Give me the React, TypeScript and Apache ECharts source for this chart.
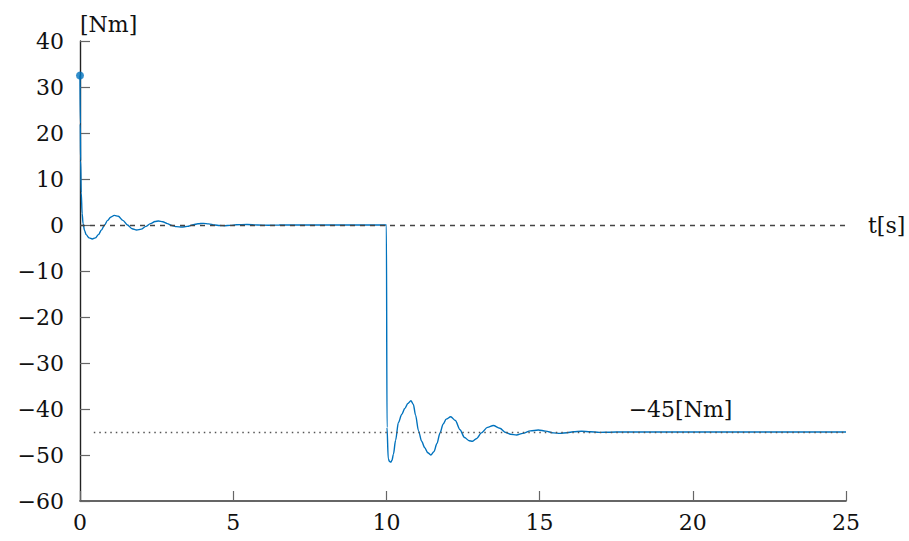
import React, { useEffect, useRef } from "react";
import * as echarts from "echarts";

const tSec = [
  0, 0.01, 0.02, 0.04, 0.07, 0.1, 0.15, 0.2, 0.3, 0.4, 0.5, 0.6, 0.7, 0.8, 0.9, 1.0, 1.12, 1.25, 1.4, 1.55,
  1.7, 1.85, 2.0, 2.15, 2.3, 2.45, 2.56, 2.7, 2.85, 3.0, 3.15, 3.32, 3.5, 3.7, 3.85, 4.03, 4.2, 4.4, 4.55,
  4.73, 4.9, 5.1, 5.45, 5.8, 6.15, 6.5, 7, 8, 9, 10.0,
  10.02, 10.06, 10.1, 10.14, 10.18, 10.23, 10.3, 10.39, 10.5, 10.6, 10.7, 10.8, 10.88, 10.95, 11.05, 11.15,
  11.25, 11.35, 11.45, 11.55, 11.65, 11.75, 11.85, 11.95, 12.1, 12.25, 12.4, 12.55, 12.7, 12.81, 12.95,
  13.1, 13.3, 13.49, 13.7, 13.9, 14.05, 14.25, 14.45, 14.7, 14.96, 15.2, 15.45, 15.67, 15.9, 16.1, 16.37,
  16.65, 16.95, 17.3, 17.7, 18.2, 19, 25,
];
const torqueNm = [
  32.5, 22, 14, 7, 2.5, 0.3, -1.2, -2.1, -2.8, -3.05, -2.8, -2.1, -1.1, 0.0, 1.0, 1.7, 2.1, 1.9, 1.0, 0.0,
  -0.8, -1.1, -0.9, -0.3, 0.3, 0.75, 0.87, 0.7, 0.3, -0.1, -0.35, -0.45, -0.3, 0.05, 0.28, 0.36, 0.25, 0.0, -0.12,
  -0.15, -0.08, 0.05, 0.12, 0.0, -0.06, 0.0, 0.03, 0, 0, 0,
  -44, -50.8, -51.4, -51.55, -51.2, -49.8, -46.8, -43, -41.2, -39.9, -38.8, -38.2, -39, -41.3, -44.8, -47,
  -48.4, -49.5, -50, -49.3, -47.5, -45.2, -43.3, -42.2, -41.7, -42.5, -44.5, -46.2, -46.9, -47.0, -46.4,
  -45.2, -44.0, -43.6, -44.2, -45.1, -45.5, -45.65, -45.3, -44.75, -44.57, -44.8, -45.2, -45.3, -45.15, -44.95, -44.85,
  -44.95, -45.08, -45.05, -44.98, -45.0, -45, -45,
];
const referenceLevel = -45;
const referenceLabel = "\u221245[Nm]";
const yUnit = "[Nm]";
const xUnit = "t[s]";

const FONT = "DejaVu Serif";
const BLUE = "#0072bd";

const fmt = (v: number) => (v < 0 ? "\u2212" + Math.abs(v) : String(v));

export default function App() {
  const ref = useRef<HTMLDivElement>(null);
  useEffect(() => {
    if (!ref.current) return;
    const chart = echarts.init(ref.current, undefined, { renderer: "svg" });
    const data = tSec.map((t, i) => [t, torqueNm[i]]);
    chart.setOption({
      animation: false,
      backgroundColor: "#ffffff",
      textStyle: { fontFamily: FONT, fontSize: 22, color: "#111" },
      grid: { left: 80, right: 63, top: 41, bottom: 40, containLabel: false },
      xAxis: {
        type: "value",
        min: 0,
        max: 25,
        interval: 5,
        axisLine: { show: true, onZero: false, lineStyle: { color: "#333", width: 1.6 } },
        axisTick: { show: true, inside: true, length: 10, lineStyle: { color: "#666", width: 1.2 } },
        axisLabel: { fontFamily: FONT, fontSize: 22, color: "#111", margin: 10 },
        splitLine: { show: false },
      },
      yAxis: {
        type: "value",
        min: -60,
        max: 40,
        interval: 10,
        name: yUnit,
        nameLocation: "end",
        nameGap: 6,
        nameTextStyle: { fontFamily: FONT, fontSize: 22, color: "#111", align: "left" },
        axisLine: { show: true, onZero: false, lineStyle: { color: "#222", width: 1.4 } },
        axisTick: { show: true, inside: true, length: 10, lineStyle: { color: "#666", width: 1.2 } },
        axisLabel: { fontFamily: FONT, fontSize: 22, color: "#111", margin: 16, formatter: fmt },
        splitLine: { show: false },
      },
      series: [
        {
          type: "line",
          data,
          showSymbol: false,
          smooth: 0.3,
          smoothMonotone: "x",
          lineStyle: { color: BLUE, width: 1.4 },
          z: 3,
          markLine: {
            silent: true,
            symbol: ["none", "none"],
            data: [
              [
                {
                  coord: [0, 0],
                  lineStyle: { type: [5, 5], color: "#444", width: 1.3 },
                  label: {
                    show: true,
                    position: "end",
                    formatter: xUnit,
                    distance: 22,
                    fontFamily: FONT,
                    fontSize: 22,
                    color: "#111",
                  },
                },
                { coord: [25, 0] },
              ],
              [
                {
                  coord: [0.45, referenceLevel],
                  lineStyle: { type: [1.5, 4], color: "#555", width: 1.3 },
                  label: { show: false },
                },
                { coord: [25, referenceLevel] },
              ],
            ],
          },
          markPoint: {
            silent: true,
            symbol: "rect",
            symbolSize: 1,
            itemStyle: { color: "rgba(0,0,0,0)" },
            data: [
              {
                coord: [19.6, -40.2],
                label: {
                  show: true,
                  position: "inside",
                  formatter: referenceLabel,
                  fontFamily: FONT,
                  fontSize: 22,
                  color: "#111",
                },
              },
            ],
          },
        },
        {
          type: "scatter",
          data: [data[0]],
          symbol: "circle",
          symbolSize: 8,
          itemStyle: { color: BLUE },
          z: 4,
        },
      ],
    });
    return () => chart.dispose();
  }, []);
  return (
    <div
      ref={ref}
      style={{ position: "fixed", left: 0, top: 0, width: 909, height: 541, background: "#fff" }}
    />
  );
}
